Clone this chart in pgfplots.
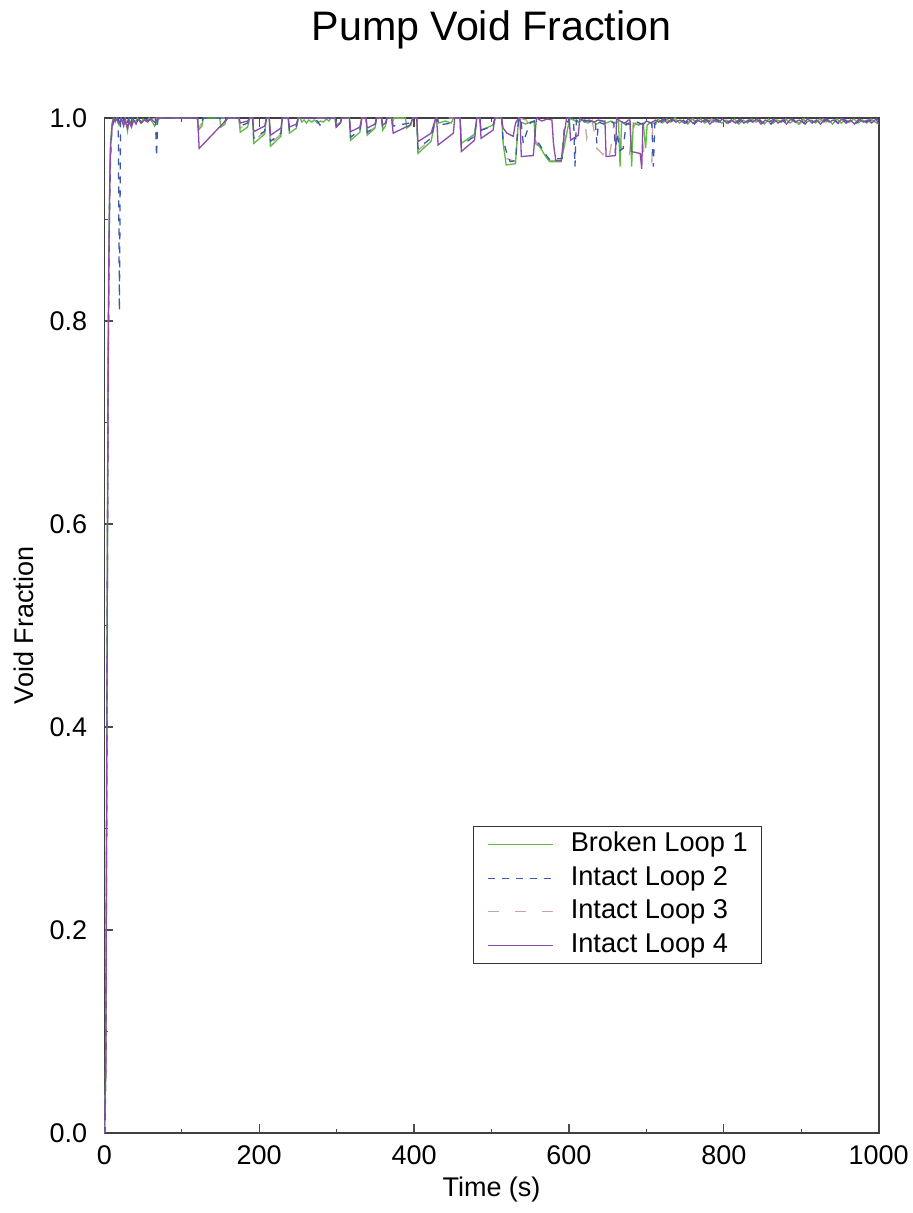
\documentclass[border=0pt]{standalone}
\usepackage{fontspec}
\setmainfont{Liberation Sans}
\usepackage{pgfplots}
\pgfplotsset{compat=1.18}
\definecolor{cG}{HTML}{5DBB46}
\definecolor{cB}{HTML}{3C5AAA}
\definecolor{cP}{HTML}{C9A3A3}
\definecolor{cV}{HTML}{8A4BAA}
\begin{document}
\begin{tikzpicture}[x=1pt,y=1pt]
\path[use as bounding box] (0,0) rectangle (456.5,606.5);
\node[font=\fontsize{20.6}{24}\selectfont] at (245.75,591.5) {Pump Void Fraction};
\begin{axis}[
  at={(52.15pt,40pt)}, anchor=south west,
  scale only axis, width=387.2pt, height=507.5pt,
  xmin=0, xmax=1000, ymin=0, ymax=1,
  xtick={0,200,400,600,800,1000}, minor xtick={100,300,500,700,900},
  ytick={0,0.2,0.4,0.6,0.8,1.0}, minor ytick={0.1,0.3,0.5,0.7,0.9},
  xtick pos=both, ytick pos=left,
  tick align=inside, major tick length=4.5pt, minor tick length=2pt,
  tick style={black!70, line width=0.6pt},
  axis line style={black!75, line width=0.8pt},
  every tick label/.append style={font=\fontsize{13.5}{16}\selectfont},
  /pgf/number format/assume math mode=true,
  /pgf/number format/1000 sep={},
  yticklabel style={xshift=-5pt, /pgf/number format/fixed, /pgf/number format/fixed zerofill, /pgf/number format/precision=1},
  xticklabel style={yshift=-3pt},
  xlabel={Time (s)}, ylabel={Void Fraction},
  label style={font=\fontsize{13.5}{16}\selectfont},
  xlabel style={at={(axis description cs:0.5,0)}, anchor=north, inner sep=0pt, yshift=-22pt},
  ylabel style={at={(axis description cs:-0.0904,0.5)}, anchor=south, rotate=0, inner sep=0pt},
  legend image code/.code={\draw[#1] (0pt,0pt) -- (32.5pt,0pt);},
  legend style={at={(0.8497,0.3025)}, anchor=north east, draw=black!80, line width=0.6pt,
    font=\fontsize{13.6}{16}\selectfont, inner xsep=7pt, inner ysep=2.5pt,
    row sep=3.8pt, column sep=8.35pt,
    nodes={inner sep=0pt, text height=10pt, text depth=3pt, anchor=west}},
  legend cell align=left,
  every axis plot/.append style={line width=0.65pt},
]
% Intact Loop 3 (drawn first, underneath)
\addplot[cP, dash pattern=on 5.5pt off 8pt, forget plot] coordinates {
(0,0) (2,0.07) (3,0.32) (4,0.57) (5,0.76) (6,0.86) (7,0.93) (8,0.965) (10,0.99) (12,1.0) (20,0.996) (30,0.993) (40,0.997) (55,0.998) (70,1.0)
(120,1.0) (121.5,0.99) (126,0.995) (128,1.0)
(174,1.0) (175.5,0.99) (185,0.994) (188,1.0)
(191.5,1.0) (193,0.978) (207,0.986) (209.5,1.0)
(213,1.0) (214.5,0.975) (228,0.984) (230,1.0)
(237.5,1.0) (239,0.987) (248,0.991) (250.5,1.0)
(298,1.0) (299.5,0.992) (305,0.995) (306.5,1.0)
(316.5,1.0) (318,0.980) (330,0.987) (332.5,1.0)
(338,1.0) (339.5,0.985) (349.5,0.991) (351.5,1.0)
(358,1.0) (359.5,0.99) (363,0.993) (365,1.0)
(403.5,1.0) (405,0.968) (422,0.979) (428,1.0)
(459.5,1.0) (461,0.972) (478,0.982) (481,1.0)
(485,1.0) (486.5,0.986) (502,0.991) (504.5,1.0)
(513,1.0) (515,0.977) (520,0.96) (531,0.957) (535,1.0)
(545,0.998) (556.5,0.978) (570,0.963) (575,0.958) (590,0.958) (596,0.985) (601,1.0)
(606,0.998) (612,0.996) (618,0.999) (621,0.993) (623,0.98) (626,0.99) (630,0.997) (633,0.985) (636,0.970) (640,0.967) (644,0.964) (648,0.97) (652,0.962) (655,0.975) (658,0.995) (663,0.997) (666,0.98) (669,0.962) (674,0.963) (678,0.962) (681,0.985) (686,0.995) (692,0.993) (697,0.965) (700,0.962) (704,0.960) (707,0.955) (708,0.996) (712,0.997)
(718,0.995) (724,0.998) (730,0.996) (736,0.999) (742,0.995) (748,0.998) (754,0.996) (760,0.999) (766,0.995) (772,0.998) (778,0.995) (784,0.999) (790,0.996) (796,0.998) (802,0.995) (808,0.999) (814,0.996) (820,0.998) (826,0.994) (832,0.999) (838,0.996) (844,0.998) (850,0.995) (856,0.999) (862,0.995) (868,0.998) (874,0.996) (880,0.999) (886,0.995) (892,0.998) (898,0.994) (904,0.999) (910,0.996) (916,0.998) (922,0.995) (928,0.999) (934,0.995) (940,0.998) (946,0.996) (952,0.999) (958,0.995) (964,0.998) (970,0.994) (976,0.999) (982,0.996) (988,0.998) (994,0.995) (1000,0.997)
};
% Broken Loop 1
\addplot[cG, forget plot] coordinates {
(0,0) (1,0.01) (2,0.1) (3,0.35) (4,0.6) (5,0.78) (6,0.88) (7,0.94) (8,0.975) (10,0.995) (12,1.0)
(14,0.996) (16,1.0) (19,0.993) (21,0.999) (24,0.995) (27,1.0) (30,0.987) (32,0.999) (35,0.994) (37,0.999) (40,0.996) (43,1.0) (47,0.995) (50,0.999) (54,0.997) (58,1.0) (62,0.996) (65,0.992) (68,0.997) (72,1.0)
(120,1.0) (121.5,0.988) (126,0.992) (128,1.0) (149,1.0) (150.5,0.991) (156,0.994) (158,1.0)
(174,1.0) (175.5,0.986) (185,0.991) (188,1.0)
(191.5,1.0) (193,0.975) (207,0.984) (209.5,1.0)
(213,1.0) (214.5,0.972) (228,0.982) (230,1.0)
(237.5,1.0) (239,0.985) (248,0.990) (250.5,1.0)
(253,1.0) (255,0.996) (258,0.998) (261,0.995) (264,0.998) (268,0.996) (271,0.998) (275,0.995) (279,0.997) (283,0.996) (287,0.999) (290,0.997) (293,1.0)
(298,1.0) (299.5,0.993) (305,0.996) (306.5,1.0)
(316.5,1.0) (318,0.978) (330,0.986) (332.5,1.0)
(338,1.0) (339.5,0.983) (349.5,0.990) (351.5,1.0)
(358,1.0) (359.5,0.988) (363,0.992) (365,1.0)
(371,1.0) (372,0.995) (374,1.0) (389,1.0) (390.5,0.990) (396,0.993) (398,1.0)
(403.5,1.0) (405,0.965) (422,0.977) (428,1.0)
(430,1.0) (432,0.995) (440,0.997) (448,0.995) (451,1.0)
(459.5,1.0) (461,0.975) (478,0.984) (481,1.0)
(485,1.0) (486.5,0.988) (502,0.993) (504.5,1.0)
(513,1.0) (515,0.975) (519,0.9537) (531,0.955) (535,1.0)
(538,0.996) (544,0.994) (550,0.996) (555,0.997)
(556.5,0.975) (562,0.972) (570,0.962) (575,0.957) (590,0.957) (596,0.98) (601,1.0)
(606,0.998) (612,0.996) (618,0.998) (624,0.995) (630,0.997) (636,0.994) (642,0.997) (648,0.995) (654,0.997) (660,0.995)
(664,0.997) (666,0.952) (668,0.996) (674,0.993) (679,0.996) (681,0.952) (683,0.995) (690,0.993) (696,0.995) (699,0.97) (701,0.993) (706,0.996) (712,0.994)
(715,0.999) (720.5,0.995) (726,0.999) (731.5,0.996) (737,1.0) (742.5,0.995) (748,0.998) (753.5,0.994) (759,0.999) (764.5,0.996) (770,0.999) (775.5,0.995) (781,0.998) (786.5,0.996) (792,0.999) (797.5,0.995) (803,0.998) (808.5,0.996) (814,0.999) (819.5,0.994) (825,0.998) (830.5,0.995) (836,0.999) (841.5,0.996) (847,0.998) (852.5,0.994) (858,0.999) (863.5,0.995) (869,0.998) (874.5,0.996) (880,0.999) (885.5,0.995) (891,0.998) (896.5,0.994) (902,0.999) (907.5,0.996) (913,0.998) (918.5,0.995) (924,0.999) (929.5,0.996) (935,0.998) (940.5,0.994) (946,0.999) (951.5,0.995) (957,0.998) (962.5,0.996) (968,0.999) (973.5,0.995) (979,0.998) (984.5,0.995) (990,0.999) (995.5,0.996) (1000,0.994)
};
% Intact Loop 2
\addplot[cB, dash pattern=on 3.5pt off 3.5pt, forget plot] coordinates {
(0,0) (1,0.0) (2,0.08) (3,0.3) (4,0.55) (5,0.74) (6,0.85) (7,0.92) (8,0.96) (10,0.99) (13,1.0)
(15,0.997) (17,1.0) (18,1.0) (19.5,0.81) (21,1.0) (23,0.996) (26,1.0) (29,0.993) (31,0.999) (34,0.992) (36,1.0) (40,0.995) (44,0.999) (48,0.996) (52,1.0) (56,0.997) (60,0.999) (64,0.997) (66,1.0) (67.5,0.962) (69,1.0) (72,1.0)
(120,1.0) (121.5,0.995) (126,0.997) (128,1.0) (150,1.0) (151.5,0.995) (156,0.997) (158,1.0)
(174,1.0) (175.5,0.992) (185,0.995) (188,1.0)
(191.5,1.0) (193,0.980) (207,0.987) (209.5,1.0)
(213,1.0) (214.5,0.977) (228,0.985) (230,1.0)
(237.5,1.0) (239,0.988) (248,0.992) (250.5,1.0)
(270,1.0) (275,0.997) (278.5,0.993) (282,0.998) (286,1.0)
(298,1.0) (299.5,0.991) (305,0.995) (306.5,1.0)
(316.5,1.0) (318,0.981) (330,0.988) (332.5,1.0)
(338,1.0) (339.5,0.986) (349.5,0.991) (351.5,1.0)
(358,1.0) (359.5,0.990) (363,0.993) (365,1.0)
(371,1.0) (373,0.992) (394,0.995) (398,1.0)
(403.5,1.0) (405,0.970) (422,0.980) (428,1.0)
(430,1.0) (432,0.993) (448,0.995) (451,1.0)
(459.5,1.0) (461,0.973) (478,0.982) (481,1.0)
(485,1.0) (486.5,0.988) (502,0.992) (504.5,1.0)
(513,1.0) (515,0.978) (520,0.965) (524,0.957) (531,0.958) (535,1.0)
(538,0.998) (541,0.975) (545,0.985) (550,0.995) (555,0.997)
(557,0.978) (562,0.974) (570,0.964) (575,0.959) (588,0.960) (591,0.96) (594,0.99) (601,1.0)
(606,0.999) (607.8,0.952) (609.5,0.998) (614,0.996) (620,0.998) (630,0.996) (634,0.997) (636,0.975) (638,0.996) (645,0.994) (652,0.997) (658,0.995) (660,0.965) (662,0.985) (666,0.968) (670,0.97) (674,0.995) (680,0.993) (688,0.996) (694,0.994) (700,0.996) (707,0.995) (709,0.952) (711,0.995)
(714,0.998) (718,0.995) (723.5,0.999) (729,0.995) (734.5,0.998) (740,0.996) (745.5,0.999) (751,0.995) (756.5,0.998) (762,0.994) (767.5,0.999) (773,0.996) (778.5,0.998) (784,0.995) (789.5,0.999) (795,0.996) (800.5,0.998) (806,0.995) (811.5,0.999) (817,0.995) (822.5,0.998) (828,0.994) (833.5,0.998) (839,0.996) (844.5,0.999) (850,0.995) (855.5,0.998) (861,0.994) (866.5,0.999) (872,0.996) (877.5,0.998) (883,0.995) (888.5,0.999) (894,0.995) (899.5,0.998) (905,0.994) (910.5,0.999) (916,0.996) (921.5,0.998) (927,0.995) (932.5,0.999) (938,0.995) (943.5,0.998) (949,0.994) (954.5,0.999) (960,0.996) (965.5,0.998) (971,0.995) (976.5,0.999) (982,0.995) (987.5,0.998) (993,0.996) (998.5,0.999) (1000,0.997)
};
% Intact Loop 4
\addplot[cV, forget plot] coordinates {
(0,0) (2,0.06) (3,0.3) (4,0.55) (5,0.75) (6,0.87) (7,0.93) (8,0.97) (10,0.992) (12,1.0)
(14,0.997) (16,0.999) (19,0.995) (22,1.0) (25,0.992) (27,0.998) (30,0.990) (32,0.997) (35,0.991) (38,0.998) (41,0.994) (44,0.999) (48,0.995) (52,0.998) (56,0.996) (60,0.999) (65,0.996) (70,1.0)
(120,1.0) (120.6,1.0) (122.5,0.970) (160,1.0)
(174,1.0) (175.5,0.995) (185,0.997) (188,1.0)
(191.5,1.0) (193,0.9865) (207,0.992) (209.5,1.0)
(213,1.0) (214.5,0.983) (228,0.990) (230,1.0)
(237.5,1.0) (239,0.991) (248,0.994) (250.5,1.0)
(298,1.0) (299.5,0.991) (305,0.995) (306.5,1.0)
(316.5,1.0) (318,0.9865) (330,0.991) (332.5,1.0)
(338,1.0) (339.5,0.990) (349.5,0.994) (351.5,1.0)
(358,1.0) (359.5,0.993) (363,0.995) (365,1.0)
(371,1.0) (373,0.985) (394.7,0.993) (398.6,1.0)
(403.5,1.0) (405,0.9767) (422,0.985) (428,1.0)
(429.2,1.0) (431,0.9734) (450.7,0.985) (452.5,1.0)
(459.3,1.0) (461,0.967) (478,0.978) (481,1.0)
(485,1.0) (486.5,0.980) (502,0.988) (504.5,1.0)
(513,1.0) (515,0.990) (520,0.985) (528,0.982) (531,0.995) (535,1.0)
(536.8,1.0) (538.5,0.962) (554,0.963) (558,1.0)
(565,0.997) (572,0.999) (578,0.998) (580,0.975) (583,0.958) (590,0.958) (594,0.985) (597,1.0)
(600.5,1.0) (602,0.978) (612,0.983) (614,1.0)
(620,0.996) (626,0.998) (632,0.996) (638,0.998) (644,0.997)
(646.5,0.997) (648,0.962) (660,0.963) (661.6,1.0)
(666,0.997) (672,0.995) (677,0.998)
(678.8,0.998) (680.5,0.967) (692,0.965) (694,0.950) (695.5,0.993) (700,0.997) (706,0.995) (712,0.998)
(716,0.996) (721.5,0.999) (727,0.995) (732.5,0.999) (738,0.996) (743.5,0.998) (749,0.995) (754.5,0.999) (760,0.995) (765.5,0.998) (771,0.996) (776.5,0.999) (782,0.994) (787.5,0.998) (793,0.996) (798.5,0.999) (804,0.995) (809.5,0.998) (815,0.995) (820.5,0.999) (826,0.995) (831.5,0.998) (837,0.996) (842.5,0.999) (848,0.994) (853.5,0.998) (859,0.996) (864.5,0.999) (870,0.995) (875.5,0.998) (881,0.994) (886.5,0.999) (892,0.996) (897.5,0.998) (903,0.995) (908.5,0.999) (914,0.995) (919.5,0.998) (925,0.994) (930.5,0.999) (936,0.996) (941.5,0.998) (947,0.995) (952.5,0.999) (958,0.995) (963.5,0.998) (969,0.994) (974.5,0.999) (980,0.996) (985.5,0.998) (991,0.995) (996.5,0.999) (1000,0.994)
};
\addlegendimage{cG, line width=0.6pt}
\addlegendentry{Broken Loop 1}
\addlegendimage{cB, line width=0.6pt, dash pattern=on 3.5pt off 3.5pt}
\addlegendentry{Intact Loop 2}
\addlegendimage{cP, line width=0.6pt, dash pattern=on 5.5pt off 8pt}
\addlegendentry{Intact Loop 3}
\addlegendimage{cV, line width=0.6pt}
\addlegendentry{Intact Loop 4}
\end{axis}
\end{tikzpicture}
\end{document}
